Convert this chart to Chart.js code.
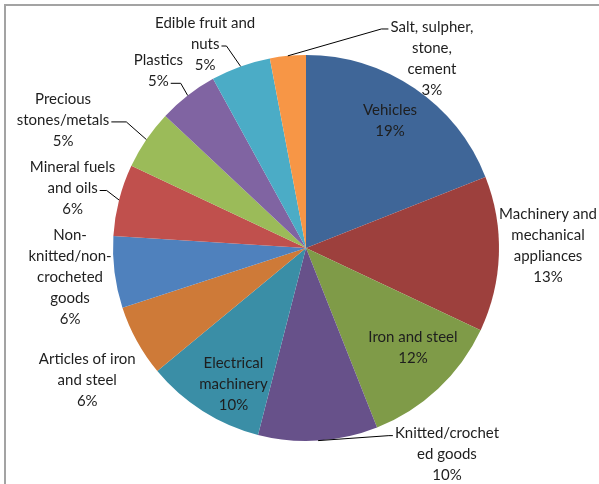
<!DOCTYPE html>
<html>
<head>
<meta charset="utf-8">
<script src="https://cdn.jsdelivr.net/npm/chart.js@4.4.1/dist/chart.umd.min.js"></script>
<style>
  html, body { margin: 0; padding: 0; background: #ffffff; overflow: hidden; }
  #wrap { position: relative; width: 599px; height: 484px; }
</style>
</head>
<body>
<div id="wrap"><canvas id="pie" width="599" height="484"></canvas></div>
<script>
// Export shares by product group (percent of total)
const categories = [
  "Vehicles",
  "Machinery and mechanical appliances",
  "Iron and steel",
  "Knitted/crocheted goods",
  "Electrical machinery",
  "Articles of iron and steel",
  "Non-knitted/non-crocheted goods",
  "Mineral fuels and oils",
  "Precious stones/metals",
  "Plastics",
  "Edible fruit and nuts",
  "Salt, sulpher, stone, cement"
];
const shares = [19, 13, 12, 10, 10, 6, 6, 6, 5, 5, 5, 3];

// How each category name wraps inside its label box
const wrappedNames = [
  ["Vehicles"],
  ["Machinery and", "mechanical", "appliances"],
  ["Iron and steel"],
  ["Knitted/crochet", "ed goods"],
  ["Electrical", "machinery"],
  ["Articles of iron", "and steel"],
  ["Non-", "knitted/non-", "crocheted", "goods"],
  ["Mineral fuels", "and oils"],
  ["Precious", "stones/metals"],
  ["Plastics"],
  ["Edible fruit and", "nuts"],
  ["Salt, sulpher,", "stone,", "cement"]
];

const sliceColors = [
  "#3f6698", "#9d403d", "#7f9b48", "#67518a", "#3a8ea6", "#ce7a38",
  "#4f81bd", "#c0504d", "#9bbb59", "#8064a2", "#4bacc6", "#f79646"
];

// Label placement: turn (deg) from the slice's middle, distance as a fraction of the radius,
// and optional leader line attached to one text line on the given side.
const labelPlacement = [
  { turn: -0.8,  dist: 0.791 },
  { turn: -2.3,  dist: 1.254 },
  { turn: -3.7,  dist: 0.759 },
  { turn: -30.7, dist: 1.296, leader: { line: 0, side: "left",  stub: 4 } },
  { turn: -4.3,  dist: 0.798 },
  { turn: -2.4,  dist: 1.325 },
  { turn: 0.1,   dist: 1.232 },
  { turn: -0.1,  dist: 1.248, leader: { line: 1, side: "right", stub: 7 } },
  { turn: -6.4,  dist: 1.423, leader: { line: 1, side: "right", stub: 15 } },
  { turn: -2.0,  dist: 1.195, leader: { line: 1, side: "right", stub: 10 } },
  { turn: -6.5,  dist: 1.179, leader: { line: 1, side: "right", stub: 5 } },
  { turn: 39.0,  dist: 1.179, leader: { line: 0, side: "left",  stub: 7 } }
];

const LABEL_FONT = "15px Lato";
const LINE_HEIGHT = 21;

// Thin grey frame around the chart (right and bottom edges fall outside the canvas)
const framePlugin = {
  id: "frame",
  beforeDraw(chart) {
    const ctx = chart.ctx;
    ctx.save();
    ctx.strokeStyle = "#a3a3a3";
    ctx.lineWidth = 2;
    ctx.strokeRect(5, 5, 700, 600);
    ctx.restore();
  }
};

// Category + percentage labels with leader lines
const sliceLabelPlugin = {
  id: "sliceLabels",
  afterDatasetsDraw(chart) {
    const ctx = chart.ctx;
    const meta = chart.getDatasetMeta(0);
    const values = chart.data.datasets[0].data;
    const total = values.reduce((a, b) => a + b, 0);
    ctx.save();
    ctx.font = LABEL_FONT;
    ctx.fillStyle = "#1e1e1e";
    ctx.textAlign = "center";
    ctx.textBaseline = "middle";
    meta.data.forEach((arc, i) => {
      const { x, y, startAngle, endAngle, outerRadius } = arc.getProps(
        ["x", "y", "startAngle", "endAngle", "outerRadius"], true);
      const mid = (startAngle + endAngle) / 2;
      const place = labelPlacement[i];
      const a = mid + place.turn * Math.PI / 180;
      const cx = x + Math.cos(a) * outerRadius * place.dist;
      const cy = y + Math.sin(a) * outerRadius * place.dist;
      const pct = Math.round(values[i] / total * 100) + "%";
      const lines = wrappedNames[i].concat([pct]);
      const top = cy - (lines.length - 1) * LINE_HEIGHT / 2;
      lines.forEach((t, k) => ctx.fillText(t, cx, top + k * LINE_HEIGHT));

      if (place.leader) {
        const L = place.leader;
        const ly = top + L.line * LINE_HEIGHT + 2;
        const w = ctx.measureText(lines[L.line]).width;
        const px = L.side === "left" ? cx - w / 2 - 2 : cx + w / 2 + 2;
        const sx = L.side === "left" ? px - L.stub : px + L.stub;
        const ex = x + Math.cos(mid) * outerRadius;
        const ey = y + Math.sin(mid) * outerRadius;
        ctx.beginPath();
        ctx.strokeStyle = "#000000";
        ctx.lineWidth = 1;
        ctx.moveTo(ex, ey);
        ctx.lineTo(sx, ly);
        ctx.lineTo(px, ly);
        ctx.stroke();
      }
    });
    ctx.restore();
  }
};

function draw() {
  new Chart(document.getElementById("pie"), {
    type: "pie",
    data: {
      labels: categories,
      datasets: [{
        data: shares,
        backgroundColor: sliceColors,
        borderWidth: 0
      }]
    },
    options: {
      responsive: false,
      animation: false,
      layout: { padding: { left: 113, right: 100, top: 55, bottom: 43 } },
      plugins: {
        legend: { display: false },
        tooltip: { enabled: false }
      }
    },
    plugins: [framePlugin, sliceLabelPlugin]
  });
}

if (document.fonts && document.fonts.load) {
  document.fonts.load(LABEL_FONT).then(draw, draw);
} else {
  draw();
}
</script>
</body>
</html>
